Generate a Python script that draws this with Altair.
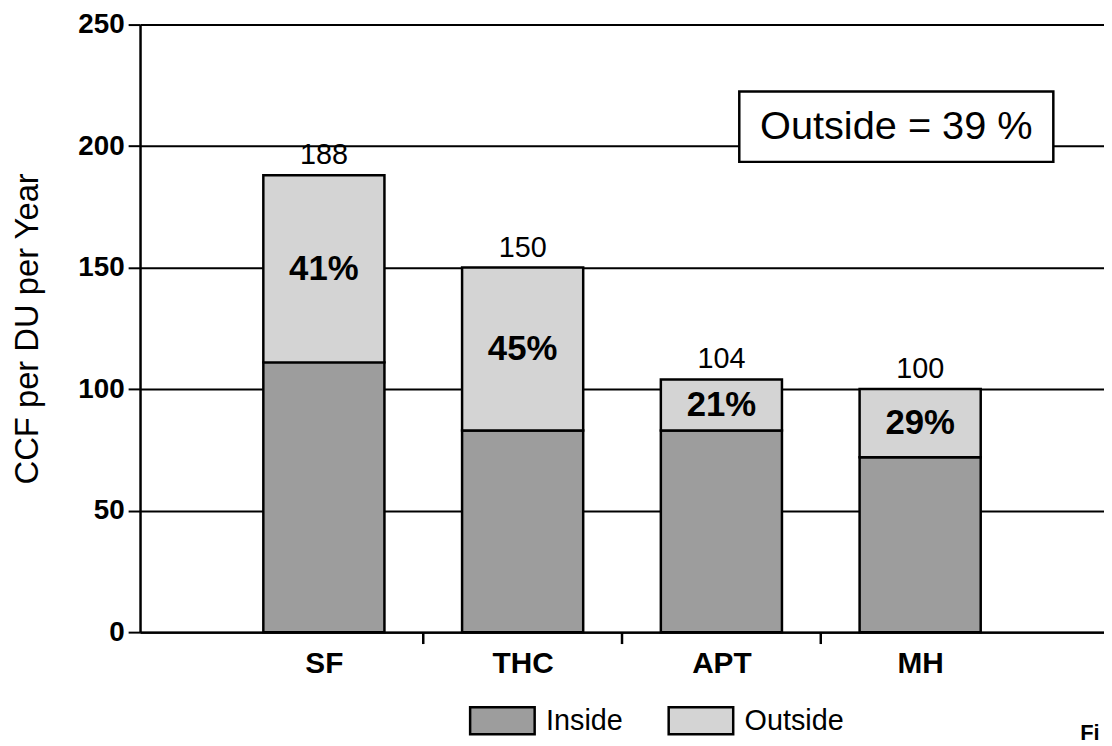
import altair as alt
import pandas as pd

# ---- data ----
categories = ["SF", "THC", "APT", "MH"]
inside_vals = [111, 83, 83, 72]
totals = [188, 150, 104, 100]
outside_pct = ["41%", "45%", "21%", "29%"]
segments = ["Inside", "Outside"]
seg_colors = ["#9d9d9d", "#d4d4d4"]
y_ticks = [0, 50, 100, 150, 200, 250]
note_text = ["Outside = 39 %"]
note_x = [3.09, 4.67]
note_y = [193.5, 222.5]
fig_text = ["Fi"]

FONT = "Liberation Sans"
TOP = 14
PH = 634 - 8 - TOP  # plot height in px

pos = list(range(1, len(categories) + 1))
rows = []
for p, c, ins, tot in zip(pos, categories, inside_vals, totals):
    rows.append(dict(pos=p, cat=c, segment="Inside", lo=0, hi=ins))
    rows.append(dict(pos=p, cat=c, segment="Outside", lo=ins, hi=tot))
bars_df = pd.DataFrame(rows)

lab_df = pd.DataFrame(dict(
    pos=pos,
    total=totals,
    mid=[(a + b) / 2 for a, b in zip(inside_vals, totals)],
    pct=outside_pct,
))
sep_df = pd.DataFrame(dict(pos=[p + 0.5 for p in pos[:-1]]))
note_df = pd.DataFrame(dict(
    pos=[note_x[0]], pos2=[note_x[1]],
    lo=[note_y[0]], hi=[note_y[1]],
    mid=[(note_y[0] + note_y[1]) / 2],
    cx=[(note_x[0] + note_x[1]) / 2],
    txt=note_text,
))
fig_df = pd.DataFrame(dict(t=fig_text))

label_expr = "[" + ",".join("'%s'" % c for c in categories) + "][datum.value - 1]"

xscale = alt.Scale(domain=[0.1, 4.9], nice=False, zero=False)
yscale = alt.Scale(domain=[0, 250], nice=False)

x_axis = alt.Axis(
    values=pos, labelExpr=label_expr, ticks=False, grid=False, title=None,
    domainColor="black", domainWidth=2.5, labelFontSize=30, labelFont=FONT,
    labelFontWeight="bold", labelColor="black", labelPadding=17,
)
y_axis = alt.Axis(
    values=y_ticks, title="CCF per DU per Year", titleFontSize=33,
    titleFont=FONT, titleFontWeight="normal", titleColor="black",
    titleX=-103, titleY=PH / 2, titleAngle=270, titleAlign="center",
    titleBaseline="alphabetic",
    grid=True, gridColor="black", gridWidth=2, gridOpacity=1,
    domainColor="black", domainWidth=2.5, tickColor="black", tickWidth=2,
    tickSize=12, labelFontSize=28, labelFont=FONT, labelFontWeight="bold",
    labelColor="black", labelPadding=4,
)

def X(field):
    return alt.X(field, scale=xscale, axis=x_axis)

def Y(field):
    return alt.Y(field, scale=yscale, axis=y_axis)

bars = alt.Chart(bars_df).mark_bar(
    size=122, stroke="black", strokeWidth=2.5, opacity=1
).encode(
    x=X("pos:Q"),
    y=Y("lo:Q"),
    y2="hi:Q",
    color=alt.Color(
        "segment:N",
        scale=alt.Scale(domain=segments, range=seg_colors),
        legend=alt.Legend(
            title=None, orient="none", legendX=331, legendY=689 - 8 - TOP,
            direction="horizontal",
            symbolType="M-1,-0.415H1V0.415H-1Z", symbolSize=4225,
            symbolStrokeColor="black", symbolStrokeWidth=2.5, symbolOpacity=1,
            labelFontSize=29, labelFont=FONT, labelColor="black",
            labelOffset=10, columnPadding=40,
        ),
    ),
)

ticks = alt.Chart(sep_df).mark_rule(color="black", strokeWidth=2.5).encode(
    x=X("pos:Q"), y=alt.value(PH), y2=alt.value(PH + 12)
)

total_text = alt.Chart(lab_df).mark_text(
    dy=-11, baseline="alphabetic", fontSize=29, font=FONT, color="black"
).encode(x=X("pos:Q"), y=Y("total:Q"), text="total:Q")

pct_text = alt.Chart(lab_df).mark_text(
    baseline="middle", fontSize=35, font=FONT, fontWeight="bold", color="black"
).encode(x=X("pos:Q"), y=Y("mid:Q"), text="pct:N")

note_rect = alt.Chart(note_df).mark_rect(
    fill="white", stroke="black", strokeWidth=2.5
).encode(x=X("pos:Q"), x2="pos2:Q", y=Y("lo:Q"), y2="hi:Q")

note_lbl = alt.Chart(note_df).mark_text(
    baseline="middle", fontSize=40, font=FONT, color="black"
).encode(x=X("cx:Q"), y=Y("mid:Q"), text="txt:N")

fig_lbl = alt.Chart(fig_df).mark_text(
    align="left", baseline="middle", fontSize=22, font=FONT,
    fontWeight="bold", color="black"
).encode(x=alt.value(947), y=alt.value(736 - 8 - TOP), text="t:N")

chart = alt.layer(
    bars, ticks, total_text, pct_text, note_rect, note_lbl, fig_lbl
).properties(
    width=971, height=PH,
    padding={"left": 133, "top": TOP, "right": 0, "bottom": 738 - TOP - PH},
    autosize=alt.AutoSizeParams(type="none"),
    background="white",
).configure_view(stroke=None)

chart.save("out.html", embed_options={"renderer": "svg", "actions": False})
